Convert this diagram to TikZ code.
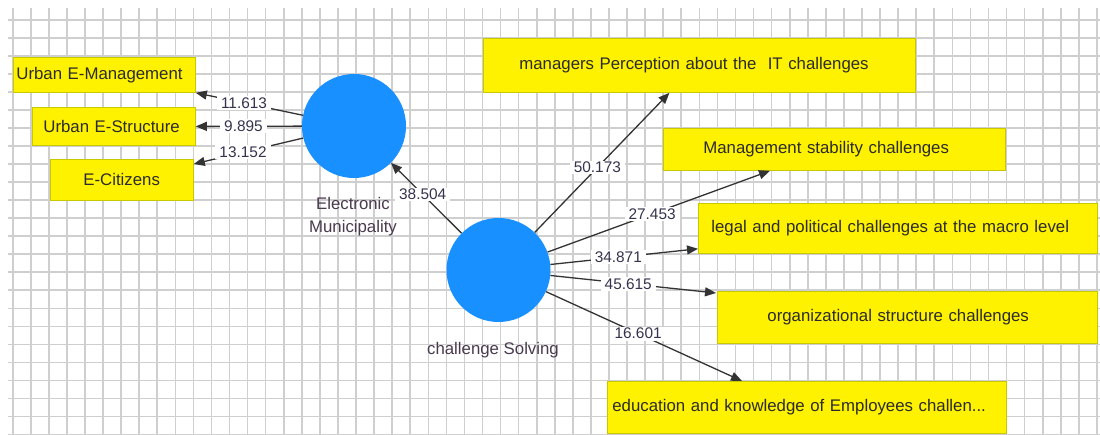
\documentclass[tikz,border=0pt]{standalone}
\usepackage{fontspec}
\setmainfont{Liberation Sans}
\usetikzlibrary{arrows.meta,calc}
\definecolor{gridcol}{HTML}{CFCFCF}
\definecolor{ybord}{HTML}{C8C800}
\definecolor{boxtext}{HTML}{2B2B2B}
\definecolor{labtext}{HTML}{34344E}
\definecolor{ctext}{HTML}{4A3A4E}
\definecolor{circblue}{HTML}{1890FF}
\definecolor{linecol}{HTML}{333333}
\newcommand\boxfnt{\fontsize{16.8pt}{20pt}\selectfont}
\newcommand\labfnt{\fontsize{15.4pt}{18pt}\selectfont}
\newcommand\cfnt{\fontsize{16.8pt}{23pt}\selectfont}
\begin{document}
\begin{tikzpicture}[x=1pt,y=-1pt,
 gridline/.style={draw=gridcol,line width=1.6pt},
 ybox/.style={draw=ybord,fill=yellow,line width=0.8pt,anchor=north west,inner ysep=0pt,align=left,font=\boxfnt,text=boxtext},
 latent/.style={circle,fill=circblue,minimum size=104pt,inner sep=0pt},
 ctitle/.style={font=\cfnt,text=ctext,align=center},
 conn/.style={draw=linecol,line width=1.3pt,-{Triangle[length=11pt,width=9pt]}},
 lab/.style={fill=white,inner xsep=4pt,inner ysep=1.5pt,font=\labfnt,text=labtext}]
\useasboundingbox (0,0) rectangle (1100,435);
\fill[white] (0,0) rectangle (1100,435);
\foreach \k in {0,...,60} \draw[gridline] ({12.7+18.07*\k},8) -- ({12.7+18.07*\k},435);
\foreach \k in {0,...,23} \draw[gridline] (8,{20+18.02*\k}) -- (1100,{20+18.02*\k});
% indicator boxes
\node[ybox,minimum height=35pt,inner xsep=3pt,text width=176pt] (um) at (13,57) {\mbox{Urban E-Management}};
\node[ybox,minimum height=38pt,inner xsep=11pt,text width=141pt] (us) at (32,107) {\mbox{Urban E-Structure}};
\node[ybox,minimum height=41pt,inner xsep=33pt,text width=77pt] (ec) at (50,159) {\mbox{E-Citizens}};
\node[ybox,minimum height=54pt,inner xsep=36pt,text width=360pt] (mp) at (483,38) {\mbox{managers Perception about the\ \ IT challenges}};
\node[ybox,minimum height=42pt,inner xsep=40pt,text width=262pt] (ms) at (663,128) {\mbox{Management stability challenges}};
\node[ybox,minimum height=50pt,inner xsep=13pt,text width=373pt] (lp) at (698,203) {\mbox{legal and political challenges at the macro level}};
\node[ybox,minimum height=52pt,inner xsep=50pt,text width=280pt] (os) at (717,291) {\mbox{organizational structure challenges}};
\node[ybox,minimum height=52pt,inner xsep=5pt,text width=389pt] (ed) at (607,381) {\mbox{education and knowledge of Employees challen...}};
% latent variables
\node[latent] (em) at (354,126) {};
\node[latent] (cs) at (498.5,270) {};
\node[ctitle] (emt) at (353,216.5) {Electronic\\Municipality};
\node[ctitle] (cst) at (493,350) {challenge Solving};
% connectors
\draw[conn] (em) -- (um.south east) node[lab,pos=0.55]{11.613};
\draw[conn] (em) -- (us.east) node[lab,pos=0.55]{9.895};
\draw[conn] (em) -- ($(ec.north east)+(0,5)$) node[lab,pos=0.55]{13.152};
\draw[conn] (cs) -- (em) node[lab,pos=0.55]{38.504};
\draw[conn] (cs) -- ($(mp.south)+(-30,0)$) node[lab,pos=0.465]{50.173};
\draw[conn] (cs) -- ($(ms.south west)+(107,0)$) node[lab,pos=0.47]{27.453};
\draw[conn] (cs) -- ($(lp.south west)+(0,-5)$) node[lab,pos=0.46]{34.871};
\draw[conn] (cs) -- ($(os.north west)+(-1,2)$) node[lab,pos=0.47]{45.615};
\draw[conn] (cs) -- ($(ed.north west)+(135,0)$) node[lab,pos=0.47]{16.601};
\end{tikzpicture}
\end{document}
